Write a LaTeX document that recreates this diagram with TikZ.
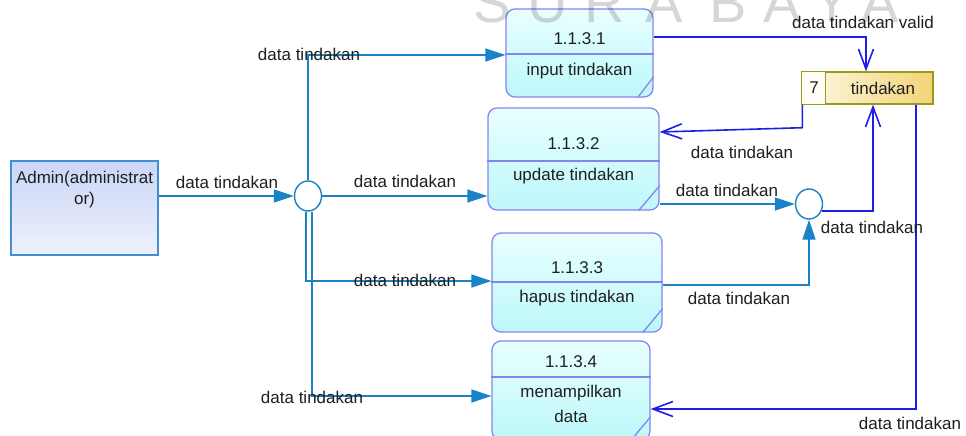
\documentclass[tikz,border=0pt]{standalone}
\usepackage{fontspec}
\setmainfont{Liberation Sans}
\usetikzlibrary{arrows.meta,shapes.geometric,calc}
\definecolor{flow}{HTML}{1A82C6}
\definecolor{sflow}{HTML}{1E1EE6}
\definecolor{pborder}{HTML}{8585F2}
\definecolor{ptop}{HTML}{E9FFFF}
\definecolor{pbot}{HTML}{BDF8FA}
\definecolor{aborder}{HTML}{3F8FD2}
\definecolor{atop}{HTML}{CBD6F6}
\definecolor{abot}{HTML}{EEF1FC}
\definecolor{sborder}{HTML}{9A9A1A}
\definecolor{sleft}{HTML}{FFFAE6}
\definecolor{sright}{HTML}{F2D375}
\begin{document}
\begin{tikzpicture}[x=1pt,y=-1pt,
  font=\fontsize{17}{20}\selectfont,
  proc/.style={draw=pborder, line width=1.3pt, rounded corners=9pt, top color=ptop, bottom color=pbot, inner sep=0pt},
  pline/.style={draw=pborder, line width=1.3pt},
  junc/.style={ellipse, draw=flow, line width=1.4pt, fill=white, minimum width=27pt, minimum height=30pt, inner sep=0pt},
  fl/.style={draw=flow, line width=1.6pt, -{Triangle[length=20pt,width=13pt]}},
  sf/.style={draw=sflow, line width=1.6pt, -{Straight Barb[length=20pt,width=15pt]}},
  lbl/.style={inner sep=0pt, text=black!88},
  txt/.style={inner sep=0pt, text=black!88},
  wm/.style={inner sep=0pt, anchor=base, font=\fontsize{56}{60}\selectfont, text=black, text opacity=0.16}
]
\clip (0,0) rectangle (966,436);
\fill[white] (0,0) rectangle (966,436);

% external entity
\node[draw=aborder, line width=1.3pt, top color=atop, bottom color=abot, minimum width=147pt, minimum height=94pt, inner sep=0pt] (admin) at (84.5,208) {};
\node[txt] (admint1) at (84.5,179) {Admin(administrat};
\node[txt] (admint2) at (84.5,200) {or)};

% junctions
\node[junc] (c1) at (308,196) {};
\node[junc] (c2) at (809,204) {};

% processes
\node[proc, minimum width=147pt, minimum height=88pt] (p1) at (579.5,53) {};
\draw[pline] ($(p1.west)+(0,1)$) -- ($(p1.east)+(0,1)$);
\draw[pline] ($(p1.south east)+(-16,0)$) -- ($(p1.south east)+(0,-21)$);
\node[txt] (p1id) at (579.5,39) {1.1.3.1};
\node[txt] (p1nm) at (579.5,71) {input tindakan};

\node[proc, minimum width=171pt, minimum height=102pt] (p2) at (573.5,159) {};
\draw[pline] ($(p2.west)+(0,2)$) -- ($(p2.east)+(0,2)$);
\draw[pline] ($(p2.south east)+(-21,0)$) -- ($(p2.south east)+(0,-25)$);
\node[txt] (p2id) at (573.5,144) {1.1.3.2};
\node[txt] (p2nm) at (573.5,176) {update tindakan};

\node[proc, minimum width=170pt, minimum height=99pt] (p3) at (577,282.5) {};
\draw[pline] ($(p3.west)+(0,-0.5)$) -- ($(p3.east)+(0,-0.5)$);
\draw[pline] ($(p3.south east)+(-20,0)$) -- ($(p3.south east)+(0,-24)$);
\node[txt] (p3id) at (577,268) {1.1.3.3};
\node[txt] (p3nm) at (577,298) {hapus tindakan};

\node[proc, minimum width=158pt, minimum height=99pt] (p4) at (571,390.5) {};
\draw[pline] ($(p4.west)+(0,-13.5)$) -- ($(p4.east)+(0,-13.5)$);
\draw[pline] ($(p4.south east)+(-20,0)$) -- ($(p4.south east)+(0,-24)$);
\node[txt] (p4id) at (571,362) {1.1.3.4};
\node[txt] (p4nm1) at (571,393) {menampilkan};
\node[txt] (p4nm2) at (571,416) {data};

% data store
\node[draw=sborder, line width=1.4pt, left color=sleft, right color=sright, minimum width=131pt, minimum height=32pt, inner sep=0pt] (store) at (867.5,88) {};
\fill[white!60!sleft] ($(store.north west)+(0.7,0.7)$) rectangle ($(store.south west)+(24,-0.7)$);
\draw[sborder, line width=1.4pt] ($(store.north west)+(24,0)$) -- ($(store.south west)+(24,0)$);
\node[txt] (sid) at (814,88) {7};
\node[txt] (snm) at (883,88) {tindakan};

% flows from admin / junction 1
\draw[fl] (admin.east |- c1.west) -- (c1.west);
\draw[fl] (c1.north) |- ($(p1.west)+(0,2)$);
\draw[fl] (c1.east) -- (p2.west |- c1.east);
\draw[fl] ($(c1.south)+(-2,0)$) |- ($(p3.west)+(0,-1.5)$);
\draw[fl] ($(c1.south)+(4,0)$) |- ($(p4.west)+(0,5.5)$);

% flows to junction 2
\draw[fl] (p2.east |- c2.west) -- (c2.west);
\draw[fl] ($(p3.east)+(0,2.5)$) -| (c2.south);

% flows with the data store
\draw[sf] (c2.-30) -| ($(store.south)+(5.5,0)$);
\draw[sf] ($(p1.east)+(0,-16)$) -| ($(store.north)+(-1.5,0)$);
\draw[sf] ($(store.south west)+(1,0)$) -- ++(0,23) -- ($(p2.east)+(0,-27)$);
\draw[sf] ($(store.south east)+(-18,0)$) |- ($(p4.east)+(0,18.5)$);

% labels
\node[lbl] (l1) at (227,182) {data tindakan};
\node[lbl] (l2) at (309,54) {data tindakan};
\node[lbl] (l3) at (405,181) {data tindakan};
\node[lbl] (l4) at (405,280) {data tindakan};
\node[lbl] (l5) at (312,397) {data tindakan};
\node[lbl] (l6) at (727,190) {data tindakan};
\node[lbl] (l7) at (739,298) {data tindakan};
\node[lbl] (l8) at (872,227) {data tindakan};
\node[lbl] (l9) at (863,22) {data tindakan valid};
\node[lbl] (l10) at (742,152) {data tindakan};
\node[lbl] (l11) at (910,423) {data tindakan};

% watermark
\node[wm] (w1) at (492,23) {S};
\node[wm] (w2) at (548,23) {U};
\node[wm] (w3) at (605,23) {R};
\node[wm] (w4) at (664,23) {A};
\node[wm] (w5) at (728,23) {B};
\node[wm] (w6) at (782,23) {A};
\node[wm] (w7) at (832,23) {Y};
\node[wm] (w8) at (880,23) {A};
\end{tikzpicture}
\end{document}
